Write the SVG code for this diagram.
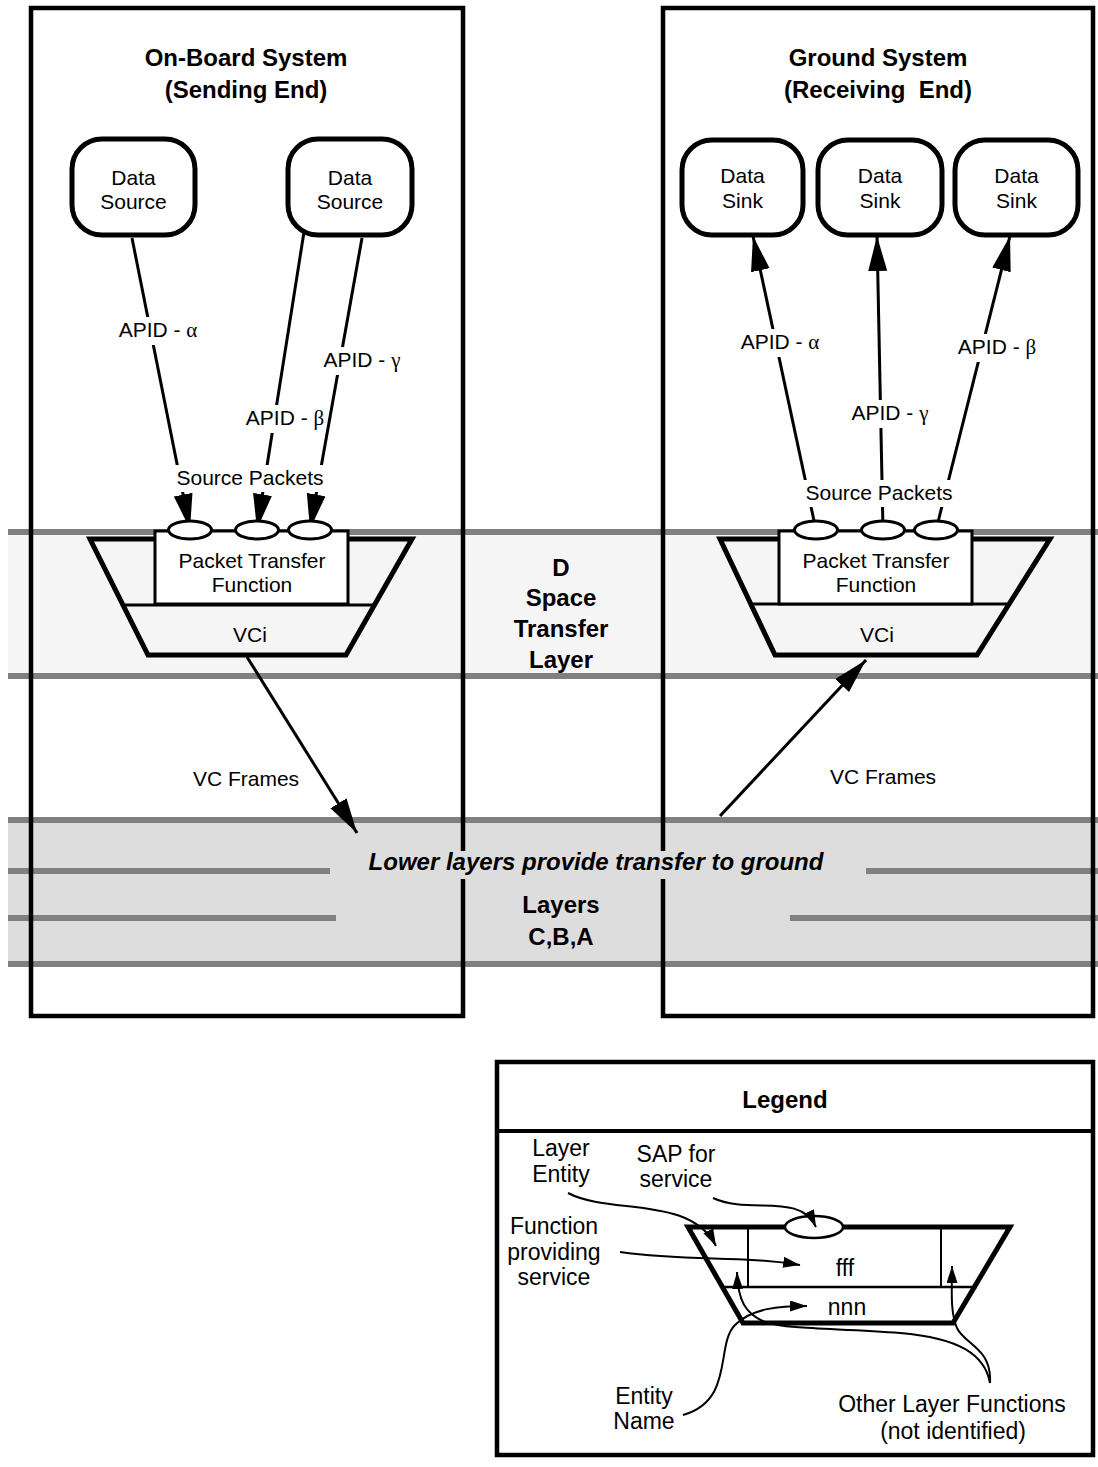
<svg xmlns="http://www.w3.org/2000/svg" width="1098" height="1467" viewBox="0 0 1098 1467">
<style>
text{font-family:"Liberation Sans",Arial,sans-serif;fill:#000}
.t{font-size:21px;text-anchor:middle}
.tl{font-size:23px;text-anchor:middle}
.b{font-size:24px;font-weight:bold;text-anchor:middle}
.g{font-family:"Liberation Serif","Times New Roman",serif}
.gray{stroke:#808080;stroke-width:6;fill:none}
.box{fill:none;stroke:#000;stroke-width:4.5}
.node{fill:#fff;stroke:#000;stroke-width:5}
.trap{fill:none;stroke:#000;stroke-width:5;stroke-linejoin:miter}
.ptf{fill:#fff;stroke:#000;stroke-width:3}
.sap{fill:#fff;stroke:#000;stroke-width:3}
.lna{fill:none;stroke:#000;stroke-width:3;marker-end:url(#ah)}
.lg{fill:none;stroke:#000;stroke-width:2;marker-end:url(#ahs)}
.wbg{fill:#fff}
</style>
<defs>
<marker id="ah" markerUnits="userSpaceOnUse" markerWidth="37" markerHeight="21" refX="35" refY="9.5" orient="auto"><path d="M0,0 L35,9.5 L0,19 z" fill="#000"/></marker>
<marker id="ahs" markerUnits="userSpaceOnUse" markerWidth="19" markerHeight="12" refX="17" refY="5.5" orient="auto"><path d="M0,0 L17,5.5 L0,11 z" fill="#000"/></marker>
</defs>
<rect width="1098" height="1467" fill="#fff"/>
<g id="bands">
<rect x="8" y="532" width="1090" height="144" fill="#f5f5f5"/>
<rect x="8" y="820" width="1090" height="144" fill="#dddddd"/>
<line class="gray" x1="8" y1="532" x2="1098" y2="532"/>
<line class="gray" x1="8" y1="676" x2="1098" y2="676"/>
<line class="gray" x1="8" y1="820" x2="1098" y2="820"/>
<line class="gray" x1="8" y1="871" x2="330" y2="871"/>
<line class="gray" x1="866" y1="871" x2="1098" y2="871"/>
<line class="gray" x1="8" y1="918" x2="336" y2="918"/>
<line class="gray" x1="790" y1="918" x2="1098" y2="918"/>
<line class="gray" x1="8" y1="964" x2="1098" y2="964"/>
</g>
<g id="onboard-system">
<rect class="box" x="31" y="8" width="432" height="1008"/>
<text class="b" x="246" y="66">On-Board System</text>
<text class="b" x="246" y="98">(Sending End)</text>
</g>
<g id="ground-system">
<rect class="box" x="663" y="8" width="430" height="1008"/>
<text class="b" x="878" y="66">Ground System</text>
<text class="b" x="878" y="98" xml:space="preserve">(Receiving  End)</text>
</g>
<g id="layer-labels">
<text class="b" x="561" y="576">D</text>
<text class="b" x="561" y="606">Space</text>
<text class="b" x="561" y="637">Transfer</text>
<text class="b" x="561" y="668">Layer</text>
<rect x="330" y="851" width="536" height="28" fill="#dddddd"/>
<text class="b" x="596" y="870" font-style="italic">Lower layers provide transfer to ground</text>
<text class="b" x="561" y="913">Layers</text>
<text class="b" x="561" y="945">C,B,A</text>
</g>
<g id="source1">
<rect class="node" x="72" y="139" width="123" height="96" rx="30"/>
<text class="t" x="133.5" y="185">Data</text>
<text class="t" x="133.5" y="209">Source</text>
</g>
<g id="source2">
<rect class="node" x="288" y="139" width="124" height="96" rx="30"/>
<text class="t" x="350" y="185">Data</text>
<text class="t" x="350" y="209">Source</text>
</g>
<g id="sink1">
<rect class="node" x="682" y="140" width="121" height="95" rx="30"/>
<text class="t" x="742.5" y="183">Data</text>
<text class="t" x="742.5" y="208">Sink</text>
</g>
<g id="sink2">
<rect class="node" x="818" y="140" width="124" height="95" rx="30"/>
<text class="t" x="880" y="183">Data</text>
<text class="t" x="880" y="208">Sink</text>
</g>
<g id="sink3">
<rect class="node" x="955" y="140" width="123" height="95" rx="30"/>
<text class="t" x="1016.5" y="183">Data</text>
<text class="t" x="1016.5" y="208">Sink</text>
</g>
<g id="entity-left">
<polygon class="trap" points="90,539 412,539 346,655 148,655"/>
<line x1="123" y1="605" x2="374" y2="605" stroke="#000" stroke-width="3"/>
<rect class="ptf" x="155" y="531" width="193" height="73"/>
<text class="t" x="252" y="568">Packet Transfer</text>
<text class="t" x="252" y="592">Function</text>
<text class="t" x="250" y="642">VCi</text>
</g>
<g id="entity-right">
<polygon class="trap" points="720,539 1050,539 977,655 775,655"/>
<line x1="750" y1="604" x2="1010" y2="604" stroke="#000" stroke-width="3"/>
<rect class="ptf" x="779" y="531" width="193" height="73"/>
<text class="t" x="876" y="568">Packet Transfer</text>
<text class="t" x="876" y="592">Function</text>
<text class="t" x="877" y="642">VCi</text>
</g>
<g id="connectors">
<line class="lna" x1="132" y1="238" x2="190" y2="529"/>
<line class="lna" x1="304" y1="232" x2="257" y2="529"/>
<line class="lna" x1="362" y1="238" x2="310" y2="529"/>
<line class="lna" x1="816" y1="530" x2="753" y2="236"/>
<line class="lna" x1="883" y1="530" x2="877" y2="236"/>
<line class="lna" x1="936" y1="530" x2="1010" y2="236"/>
<line class="lna" x1="247" y1="657" x2="357" y2="833"/>
<line class="lna" x1="720" y1="816" x2="866" y2="660"/>
</g>
<g id="saps">
<ellipse class="sap" cx="190" cy="530" rx="21.5" ry="9"/>
<ellipse class="sap" cx="257" cy="530" rx="21.5" ry="9"/>
<ellipse class="sap" cx="310" cy="530" rx="21.5" ry="9"/>
<ellipse class="sap" cx="816" cy="530" rx="21.5" ry="9"/>
<ellipse class="sap" cx="883" cy="530" rx="21.5" ry="9"/>
<ellipse class="sap" cx="936" cy="530" rx="21.5" ry="9"/>
</g>
<g id="connector-labels">
<rect class="wbg" x="174" y="465" width="152" height="27"/>
<text class="t" x="250" y="485">Source Packets</text>
<rect class="wbg" x="803" y="480" width="152" height="27"/>
<text class="t" x="879" y="500">Source Packets</text>
<rect class="wbg" x="117" y="317" width="82" height="28"/>
<text class="t" x="158" y="337">APID - <tspan class="g">α</tspan></text>
<rect class="wbg" x="321" y="347" width="82" height="28"/>
<text class="t" x="362" y="367">APID - <tspan class="g">γ</tspan></text>
<rect class="wbg" x="245" y="405" width="80" height="28"/>
<text class="t" x="285" y="425">APID - <tspan class="g">β</tspan></text>
<rect class="wbg" x="739" y="329" width="82" height="28"/>
<text class="t" x="780" y="349">APID - <tspan class="g">α</tspan></text>
<rect class="wbg" x="849" y="400" width="82" height="28"/>
<text class="t" x="890" y="420">APID - <tspan class="g">γ</tspan></text>
<rect class="wbg" x="956" y="334" width="82" height="28"/>
<text class="t" x="997" y="354">APID - <tspan class="g">β</tspan></text>
<text class="t" x="246" y="786">VC Frames</text>
<text class="t" x="883" y="784">VC Frames</text>
</g>
<g id="legend">
<rect class="box" x="497" y="1062" width="596" height="393"/>
<line x1="497" y1="1131" x2="1093" y2="1131" stroke="#000" stroke-width="4"/>
<text class="b" x="785" y="1108" font-size="25">Legend</text>
<polygon class="trap" points="688,1227 1010,1227 953,1323 743,1323"/>
<line x1="748" y1="1227" x2="748" y2="1287" stroke="#000" stroke-width="2"/>
<line x1="941" y1="1227" x2="941" y2="1287" stroke="#000" stroke-width="2"/>
<line x1="722" y1="1287" x2="977" y2="1287" stroke="#000" stroke-width="2.5"/>
<ellipse cx="814" cy="1227" rx="29" ry="11" fill="#fff" stroke="#000" stroke-width="2.5"/>
<text class="tl" x="845" y="1276">fff</text>
<text class="tl" x="847" y="1315">nnn</text>
<text class="tl" x="561" y="1156">Layer</text>
<text class="tl" x="561" y="1182">Entity</text>
<text class="tl" x="676" y="1162">SAP for</text>
<text class="tl" x="676" y="1187">service</text>
<text class="tl" x="554" y="1234">Function</text>
<text class="tl" x="554" y="1260">providing</text>
<text class="tl" x="554" y="1285">service</text>
<text class="tl" x="644" y="1404">Entity</text>
<text class="tl" x="644" y="1429">Name</text>
<text class="tl" x="952" y="1412">Other Layer Functions</text>
<text class="tl" x="953" y="1439">(not identified)</text>
<path class="lg" d="M568,1193 C610,1215 690,1195 716,1246"/>
<path class="lg" d="M713,1198 C750,1215 800,1192 816,1227"/>
<path class="lg" d="M620,1252 C690,1262 740,1255 800,1265"/>
<path class="lg" d="M683,1415 C735,1400 715,1345 735,1325 C752,1308 780,1306 807,1306"/>
<path class="lg" d="M990,1383 C985,1355 960,1338 900,1333 C840,1328 790,1330 765,1322 C745,1314 738,1300 737,1272"/>
<path class="lg" d="M990,1383 C992,1348 965,1345 957,1328 C950,1312 952,1290 952,1266"/>
</g>
</svg>
